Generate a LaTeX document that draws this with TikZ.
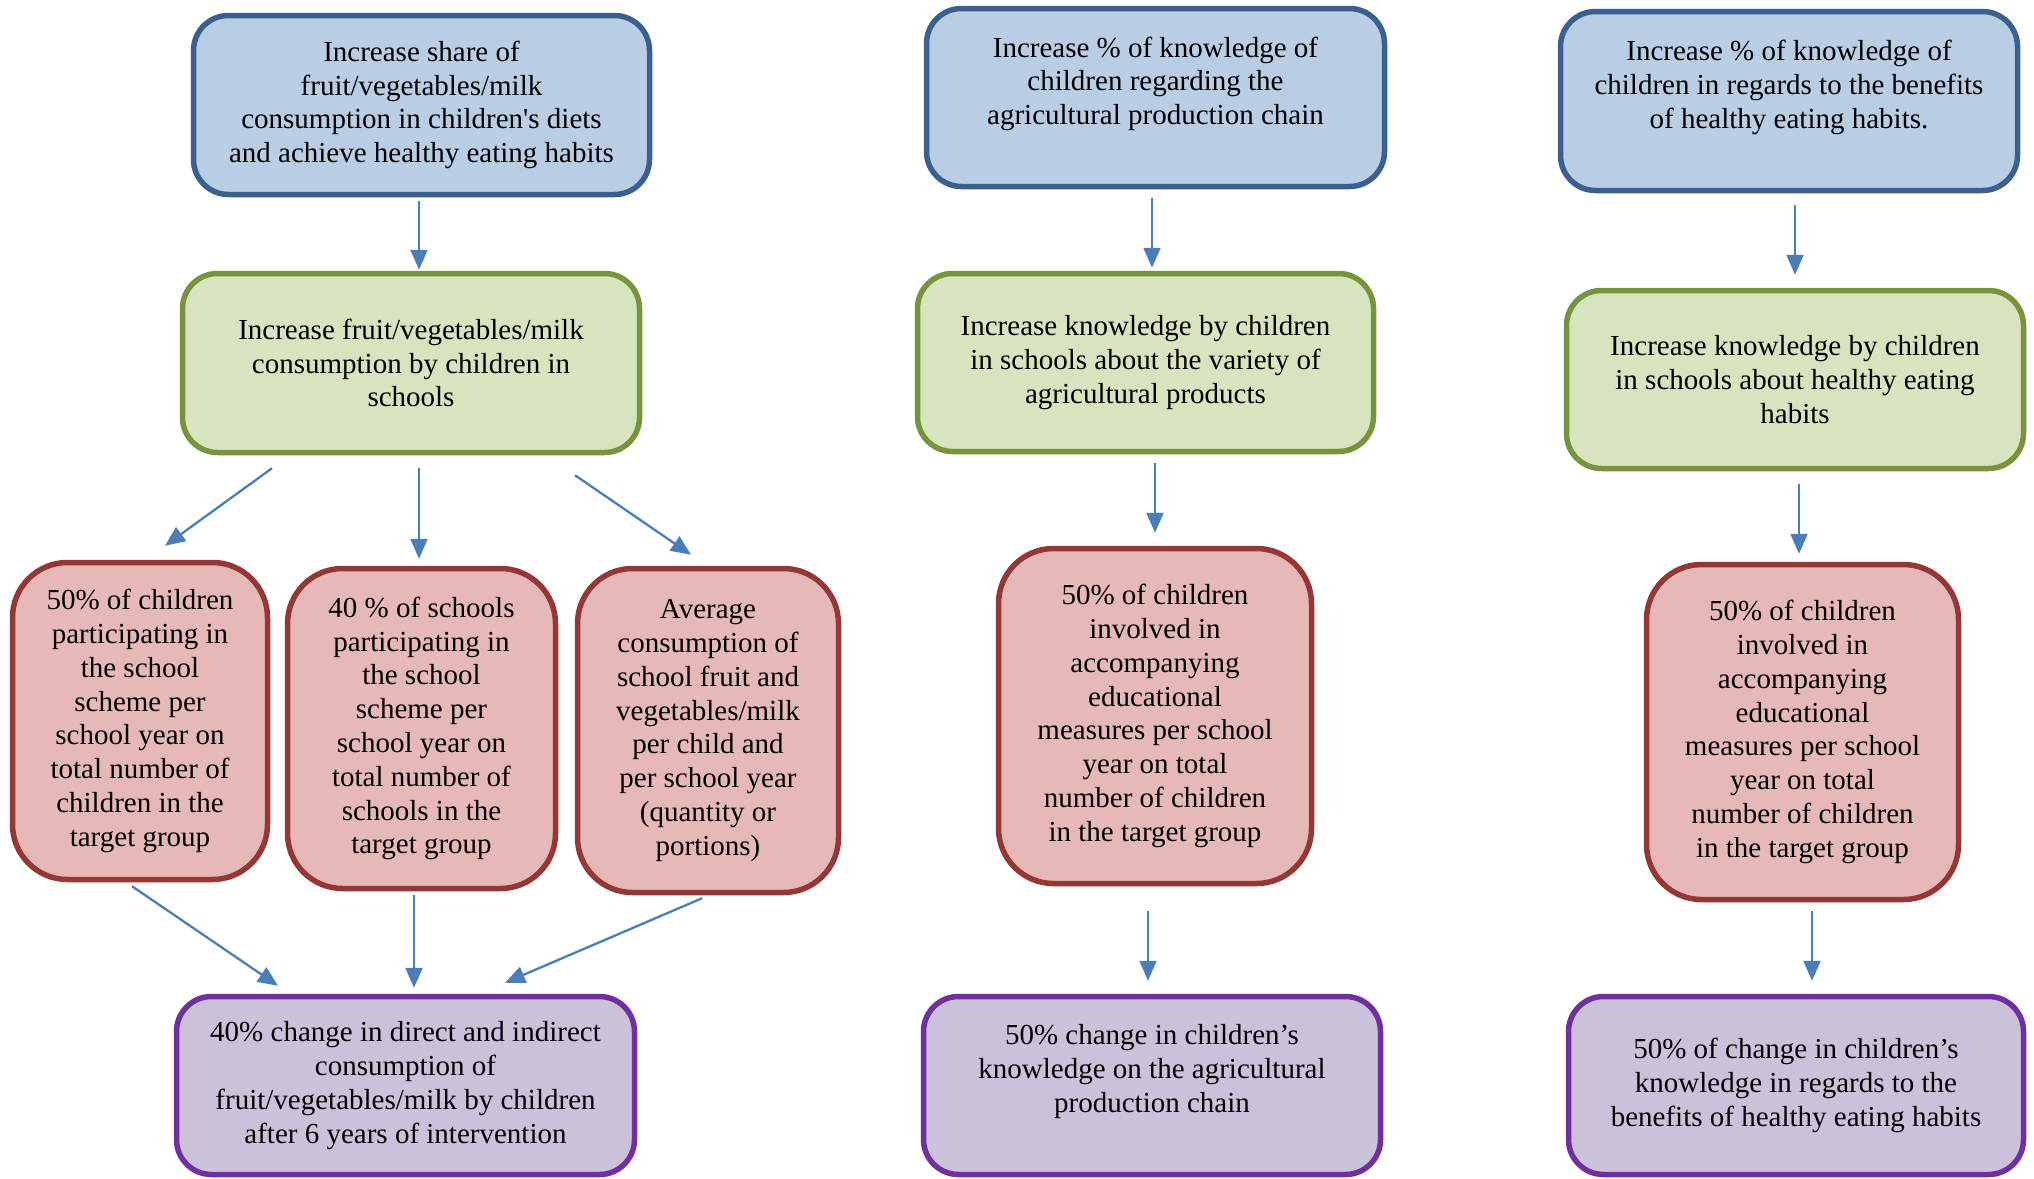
\documentclass[tikz,border=0pt]{standalone}
\usepackage{fontspec}
\setmainfont{Liberation Serif}
\usetikzlibrary{calc,arrows.meta}
\definecolor{bfill}{HTML}{B9CDE5}
\definecolor{bdraw}{HTML}{3A6090}
\definecolor{gfill}{HTML}{D7E4BD}
\definecolor{gdraw}{HTML}{77933C}
\definecolor{rfill}{HTML}{E6B9B8}
\definecolor{rdraw}{HTML}{953735}
\definecolor{pfill}{HTML}{CCC1DA}
\definecolor{pdraw}{HTML}{7030A0}
\definecolor{arrc}{HTML}{4A7EBB}
\begin{document}
\begin{tikzpicture}[x=1pt,y=-1pt,
  box/.style={draw, line width=5.5pt, rounded corners=35pt, align=center, inner sep=0pt,
    font=\fontsize{29}{33.8}\selectfont},
  bluebox/.style={box, fill=bfill, draw=bdraw},
  greenbox/.style={box, fill=gfill, draw=gdraw},
  redbox/.style={box, fill=rfill, draw=rdraw, rounded corners=55pt},
  purplebox/.style={box, fill=pfill, draw=pdraw},
  arr/.style={draw=arrc, line width=2.3pt, -{Triangle[length=20pt,width=17pt]}}]
\useasboundingbox[fill=white] (0,0) rectangle (2034,1178);

% Column 1
\node[bluebox, minimum width=456pt, minimum height=179pt] (B1) at (421.5,105)
  {Increase share of\\fruit/vegetables/milk\\consumption in children\textquotesingle s diets\\and achieve healthy eating habits};
\node[greenbox, minimum width=457pt, minimum height=179pt] (G1) at (411,363)
  {Increase fruit/vegetables/milk\\consumption by children in\\schools};
\node[redbox, minimum width=255pt, minimum height=317pt] (R1) at (140,721)
  {50\% of children\\participating in\\the school\\scheme per\\school year on\\total number of\\children in the\\target group};
\node[redbox, minimum width=268pt, minimum height=320pt] (R2) at (421.5,728.5)
  {40 \% of schools\\participating in\\the school\\scheme per\\school year on\\total number of\\schools in the\\target group};
\node[redbox, minimum width=261pt, minimum height=324pt] (R3) at (708,730.5)
  {Average\\consumption of\\school fruit and\\vegetables/milk\\per child and\\per school year\\(quantity or\\portions)};
\node[purplebox, minimum width=458pt, minimum height=178pt] (P1) at (405.5,1085.5)
  {40\% change in direct and indirect\\consumption of\\fruit/vegetables/milk by children\\after 6 years of intervention};

% Column 2
\node[bluebox, minimum width=458pt, minimum height=178pt] (B2) at (1155.5,97.5)
  {Increase \% of knowledge of\\children regarding the\\agricultural production chain\\ \mbox{}};
\node[greenbox, minimum width=456pt, minimum height=178pt] (G2) at (1145.5,362.5)
  {Increase knowledge by children\\in schools about the variety of\\agricultural products};
\node[redbox, minimum width=313pt, minimum height=335pt] (R4) at (1155,716)
  {50\% of children\\involved in\\accompanying\\educational\\measures per school\\year on total\\number of children\\in the target group};
\node[purplebox, minimum width=457pt, minimum height=178pt] (P2) at (1152,1085.5)
  {50\% change in children’s\\knowledge on the agricultural\\production chain\\ \mbox{}};

% Column 3
\node[bluebox, minimum width=457pt, minimum height=179pt] (B3) at (1789,101)
  {Increase \% of knowledge of\\children in regards to the benefits\\of healthy eating habits.\\ \mbox{}};
\node[greenbox, minimum width=457pt, minimum height=178pt] (G3) at (1795,379.5)
  {Increase knowledge by children\\in schools about healthy eating\\habits};
\node[redbox, minimum width=312pt, minimum height=335pt] (R5) at (1802.5,732)
  {50\% of children\\involved in\\accompanying\\educational\\measures per school\\year on total\\number of children\\in the target group};
\node[purplebox, minimum width=455pt, minimum height=178pt] (P3) at (1796,1085.5)
  {50\% of change in children’s\\knowledge in regards to the\\benefits of healthy eating habits};

% Arrows column 1
\draw[arr] ($(B1.south)+(-2.5,4)$) -- ($(G1.north)+(8,-1)$);
\draw[arr] ($(G1.south)+(-139,13)$) -- ($(R1.north)+(25,-14)$);
\draw[arr] ($(G1.south)+(8,13)$) -- ($(R2.north)+(-2.5,-7)$);
\draw[arr] ($(G1.south)+(164,20)$) -- ($(R3.north)+(-17,-11)$);
\draw[arr] ($(R1.south)+(-8,4)$) -- ($(P1.north)+(-127.5,-8)$);
\draw[arr] ($(R2.south)+(-7.5,4)$) -- ($(P1.north)+(8.5,-6)$);
\draw[arr] ($(R3.south)+(-6,3)$) -- ($(P1.north)+(99.5,-11)$);

% Arrows column 2
\draw[arr] ($(B2.south)+(-3.5,9)$) -- ($(G2.north)+(6.5,-3)$);
\draw[arr] ($(G2.south)+(9.5,9)$) -- ($(R4.north)+(0,-13)$);
\draw[arr] ($(R4.south)+(-7,25)$) -- ($(P2.north)+(-4,-13)$);

% Arrows column 3
\draw[arr] ($(B3.south)+(6,12)$) -- ($(G3.north)+(0,-13)$);
\draw[arr] ($(G3.south)+(4,13)$) -- ($(R5.north)+(-3.5,-8)$);
\draw[arr] ($(R5.south)+(9.5,9)$) -- ($(P3.north)+(16,-13)$);
\end{tikzpicture}
\end{document}
